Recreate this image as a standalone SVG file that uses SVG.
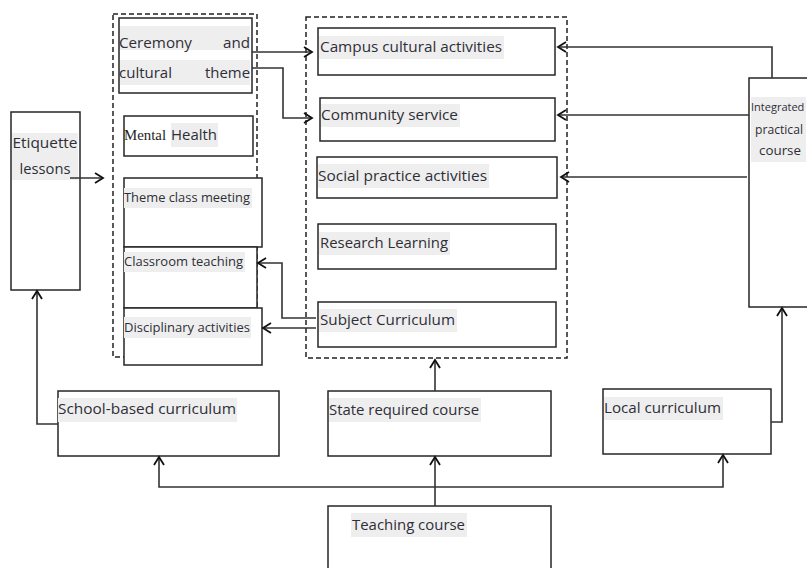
<svg xmlns="http://www.w3.org/2000/svg" width="807" height="568" viewBox="0 0 807 568">
<style>
.bg{fill:#ffffff}
.box{fill:#ffffff;stroke:#262626;stroke-width:1.5}
.dash{fill:none;stroke:#222222;stroke-width:1.5;stroke-dasharray:5 3}
.hl{fill:#eeeeef}
.t{font-family:"Open Sans","Noto Sans","Liberation Sans",sans-serif;font-size:15px;fill:#2e2e36}
.s{font-family:"Open Sans","Noto Sans","Liberation Sans",sans-serif;font-size:12.5px;fill:#2e2e36}
.xs{font-family:"Open Sans","Noto Sans","Liberation Sans",sans-serif;font-size:11px;fill:#2e2e36}
.serif{font-family:"Liberation Serif","DejaVu Serif",serif;font-size:14px;fill:#1e1e1e}
.c{fill:none;stroke:#333333;stroke-width:1.6}
</style>
<defs>
<marker id="ah" markerUnits="userSpaceOnUse" markerWidth="14" markerHeight="14" viewBox="-10 -7 12 14" refX="0" refY="0" orient="auto">
<path d="M-8,-5 L0,0 L-8,5" fill="none" stroke="#111111" stroke-width="1.8"/>
</marker>
</defs>
<rect class="bg" x="0" y="0" width="807" height="568"/>

<rect class="dash" x="113" y="14" width="144" height="343"/>
<rect class="dash" x="306" y="17" width="261" height="341"/>

<g id="etiquette">
<rect class="box" x="11" y="112" width="69" height="178"/>
<rect class="hl" x="12" y="133" width="66" height="47"/>
<text class="t" x="45" y="148" text-anchor="middle" textLength="65" lengthAdjust="spacingAndGlyphs">Etiquette</text>
<text class="t" x="45" y="174" text-anchor="middle" textLength="51" lengthAdjust="spacingAndGlyphs">lessons</text>
</g>

<g id="ceremony">
<rect class="box" x="119" y="18" width="133" height="75"/>
<rect class="hl" x="120" y="26" width="130" height="24"/>
<rect class="hl" x="120" y="60" width="130" height="25"/>
<text class="t" x="119" y="48" textLength="73" lengthAdjust="spacingAndGlyphs">Ceremony</text>
<text class="t" x="250" y="48" text-anchor="end" textLength="27" lengthAdjust="spacingAndGlyphs">and</text>
<text class="t" x="119" y="78" textLength="53" lengthAdjust="spacingAndGlyphs">cultural</text>
<text class="t" x="250" y="78" text-anchor="end" textLength="45" lengthAdjust="spacingAndGlyphs">theme</text>
</g>

<g id="mental">
<rect class="box" x="124" y="116" width="129" height="40"/>
<rect class="hl" x="171" y="123" width="47" height="24"/>
<text class="serif" x="124" y="140" textLength="42" lengthAdjust="spacingAndGlyphs">Mental</text>
<text class="t" x="171" y="140" textLength="46" lengthAdjust="spacingAndGlyphs">Health</text>
</g>

<g id="theme">
<rect class="box" x="124" y="178" width="138" height="69"/>
<rect class="hl" x="124" y="188" width="128" height="20"/>
<text class="s" x="124" y="202" textLength="126" lengthAdjust="spacingAndGlyphs">Theme class meeting</text>
</g>

<g id="classroom">
<rect class="box" x="124" y="247" width="133" height="61"/>
<rect class="hl" x="124" y="252" width="121" height="20"/>
<text class="s" x="124" y="266" textLength="119" lengthAdjust="spacingAndGlyphs">Classroom teaching</text>
</g>

<g id="disciplinary">
<rect class="box" x="124" y="308" width="138" height="57"/>
<rect class="hl" x="124" y="317" width="127" height="21"/>
<text class="s" x="124" y="332" textLength="126" lengthAdjust="spacingAndGlyphs">Disciplinary activities</text>
</g>

<g id="campus">
<rect class="box" x="318" y="28" width="237" height="47"/>
<rect class="hl" x="319" y="36" width="185" height="23"/>
<text class="t" x="320" y="52" textLength="182" lengthAdjust="spacingAndGlyphs">Campus cultural activities</text>
</g>

<g id="community">
<rect class="box" x="320" y="98" width="235" height="43"/>
<rect class="hl" x="321" y="104" width="139" height="23"/>
<text class="t" x="321" y="120" textLength="137" lengthAdjust="spacingAndGlyphs">Community service</text>
</g>

<g id="social">
<rect class="box" x="317" y="157" width="240" height="41"/>
<rect class="hl" x="318" y="164" width="171" height="24"/>
<text class="t" x="318" y="181" textLength="169" lengthAdjust="spacingAndGlyphs">Social practice activities</text>
</g>

<g id="research">
<rect class="box" x="318" y="224" width="238" height="45"/>
<rect class="hl" x="319" y="232" width="131" height="23"/>
<text class="t" x="320" y="248" textLength="128" lengthAdjust="spacingAndGlyphs">Research Learning</text>
</g>

<g id="subject">
<rect class="box" x="318" y="302" width="238" height="45"/>
<rect class="hl" x="319" y="309" width="138" height="23"/>
<text class="t" x="320" y="325" textLength="135" lengthAdjust="spacingAndGlyphs">Subject Curriculum</text>
</g>

<g id="integrated">
<rect class="box" x="749" y="78" width="70" height="229"/>
<rect class="hl" x="751" y="97" width="55" height="65"/>
<text class="xs" x="751" y="111">Integrated</text>
<text class="s" x="779" y="134" text-anchor="middle" textLength="48" lengthAdjust="spacingAndGlyphs">practical</text>
<text class="s" x="780" y="155" text-anchor="middle" textLength="42" lengthAdjust="spacingAndGlyphs">course</text>
</g>

<g id="school">
<rect class="box" x="58" y="391" width="221" height="65"/>
<rect class="hl" x="58" y="398" width="179" height="24"/>
<text class="t" x="58" y="414" textLength="178" lengthAdjust="spacingAndGlyphs">School-based curriculum</text>
</g>

<g id="state">
<rect class="box" x="328" y="391" width="223" height="65"/>
<rect class="hl" x="329" y="398" width="152" height="24"/>
<text class="t" x="329" y="415" textLength="150" lengthAdjust="spacingAndGlyphs">State required course</text>
</g>

<g id="local">
<rect class="box" x="603" y="389" width="168" height="65"/>
<rect class="hl" x="604" y="397" width="119" height="23"/>
<text class="t" x="604" y="413" textLength="117" lengthAdjust="spacingAndGlyphs">Local curriculum</text>
</g>

<g id="teaching">
<rect class="box" x="328" y="506" width="223" height="70"/>
<rect class="hl" x="351" y="513" width="116" height="24"/>
<text class="t" x="352" y="530" textLength="113" lengthAdjust="spacingAndGlyphs">Teaching course</text>
</g>

<g id="connectors">
<path class="c" d="M70,178 H103" marker-end="url(#ah)"/>
<path class="c" d="M252,52 H312" marker-end="url(#ah)"/>
<path class="c" d="M252,68 H283 V118 H312" marker-end="url(#ah)"/>
<path class="c" d="M316,318 H282 V263 H258" marker-end="url(#ah)"/>
<path class="c" d="M316,328 H263" marker-end="url(#ah)"/>
<path class="c" d="M772,78 V47 H558" marker-end="url(#ah)"/>
<path class="c" d="M749,115 H558" marker-end="url(#ah)"/>
<path class="c" d="M747,177 H561" marker-end="url(#ah)"/>
<path class="c" d="M58,424 H37 V291" marker-end="url(#ah)"/>
<path class="c" d="M435,391 V360" marker-end="url(#ah)"/>
<path class="c" d="M771,422 H782 V308" marker-end="url(#ah)"/>
<path class="c" d="M435,506 V457" marker-end="url(#ah)"/>
<path class="c" d="M435,487 H159 V457" marker-end="url(#ah)"/>
<path class="c" d="M435,487 H723 V455" marker-end="url(#ah)"/>
</g>
</svg>
